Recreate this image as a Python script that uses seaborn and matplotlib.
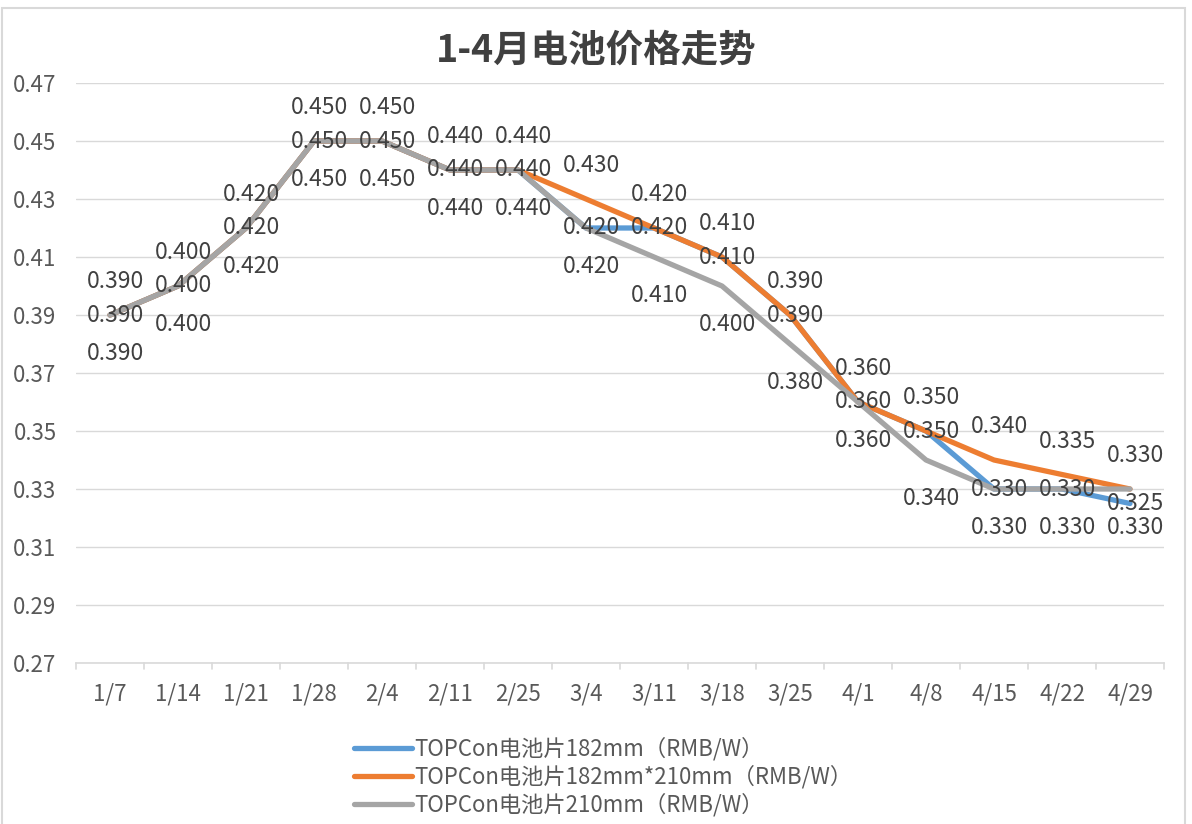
import matplotlib
matplotlib.use('Agg')
import matplotlib.pyplot as plt
import seaborn as sns
import pandas as pd

# 1-4월 TOPCon 电池片 价格
dates = ['1/7', '1/14', '1/21', '1/28', '2/4', '2/11', '2/25', '3/4',
         '3/11', '3/18', '3/25', '4/1', '4/8', '4/15', '4/22', '4/29']
p182 = [0.390, 0.400, 0.420, 0.450, 0.450, 0.440, 0.440, 0.420,
        0.420, 0.410, 0.390, 0.360, 0.350, 0.330, 0.330, 0.325]
p182x210 = [0.390, 0.400, 0.420, 0.450, 0.450, 0.440, 0.440, 0.430,
            0.420, 0.410, 0.390, 0.360, 0.350, 0.340, 0.335, 0.330]
p210 = [0.390, 0.400, 0.420, 0.450, 0.450, 0.440, 0.440, 0.420,
        0.410, 0.400, 0.380, 0.360, 0.340, 0.330, 0.330, 0.330]
names = ['TOPCon电池片182mm（RMB/W）',
         'TOPCon电池片182mm*210mm（RMB/W）',
         'TOPCon电池片210mm（RMB/W）']
colors = ['#5B9BD5', '#ED7D31', '#A5A5A5']
y_ticks = [0.27, 0.29, 0.31, 0.33, 0.35, 0.37, 0.39, 0.41, 0.43, 0.45, 0.47]

sns.set_theme(style='white')
plt.rcParams['font.family'] = ['Noto Sans CJK SC', 'DejaVu Sans']

df = pd.DataFrame({
    '日期': dates * 3,
    '价格': p182 + p182x210 + p210,
    '品种': [names[0]] * len(dates) + [names[1]] * len(dates) + [names[2]] * len(dates),
})

fig = plt.figure(figsize=(11.92, 8.24), dpi=100)
ax = fig.add_axes([76 / 1192, 1 - 663 / 824, (1164 - 76) / 1192, (663 - 83) / 824])

sns.lineplot(data=df, x='日期', y='价格', hue='品种', palette=colors,
             sort=False, linewidth=3.8, ax=ax, legend=True)

# 데이터 레이블: 주황 위, 파랑 가운데, 회색 아래
offsets = [0, 24, -28]
txt = '#404040'
for vals, dy in zip([p182, p182x210, p210], offsets):
    for i, v in enumerate(vals):
        ax.annotate('%.3f' % v, (i, v), xytext=(4, dy), textcoords='offset points',
                    ha='center', va='center', fontsize=16.5, color=txt)

ax.set_xlim(-0.5, len(dates) - 0.5)
ax.set_ylim(0.27, 0.47)
ax.set_yticks(y_ticks)
ax.set_yticklabels(['%.2f' % t for t in y_ticks])
ax.set_xticks(range(len(dates)))
ax.set_xticklabels(dates)
ax.tick_params(axis='both', labelsize=16, colors='#595959', length=0, pad=14)
ax.tick_params(axis='y', pad=14)
ax.grid(axis='y', color='#D9D9D9', linewidth=1)
for s in ['left', 'right', 'top']:
    ax.spines[s].set_visible(False)
ax.spines['bottom'].set_color('#D9D9D9')
ax.spines['bottom'].set_linewidth(1.2)
# 카테고리 경계 눈금
for b in range(len(dates) + 1):
    ax.plot([b - 0.5, b - 0.5], [0.27, 0.27 - 0.002], color='#D9D9D9', lw=1.2,
            clip_on=False)
ax.set_xlabel('')
ax.set_ylabel('')

ax.get_legend().remove()
handles, labels = ax.get_legend_handles_labels()
fig.legend(handles, labels, loc='upper left', bbox_to_anchor=(345 / 1192, 1 - 728 / 824),
           frameon=False, fontsize=16, labelcolor='#595959', handlelength=2.6,
           handletextpad=0.1, labelspacing=0.2, borderaxespad=0)

fig.text(0.5, 1 - 50 / 824, '1-4月电池价格走势', ha='center', va='center',
         fontsize=27, fontweight='bold', color='#404040')

fig.patches.append(plt.Rectangle((0.002, -0.01), 0.992, 1.0, transform=fig.transFigure,
                                 fill=False, edgecolor='#D9D9D9', lw=1.5))

fig.savefig('out.png', dpi=100, facecolor='white')
